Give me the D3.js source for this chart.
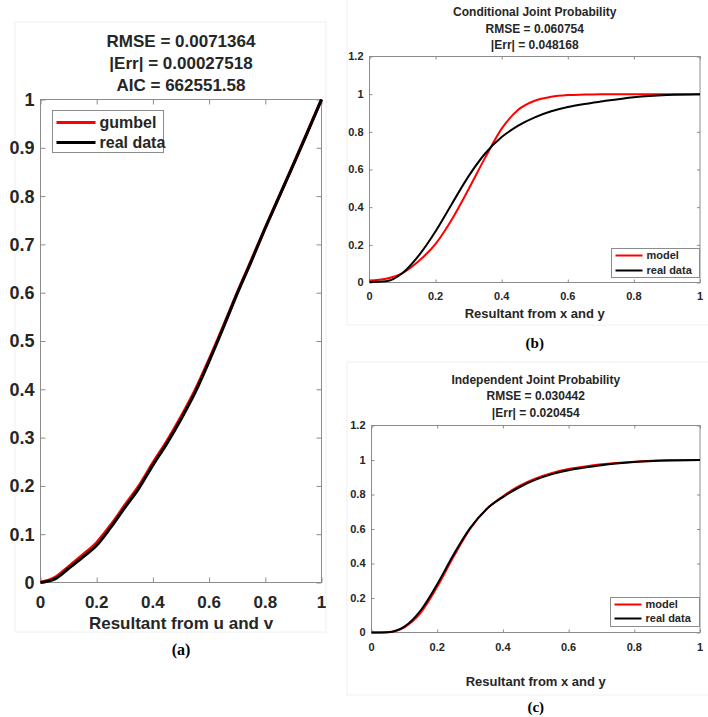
<!DOCTYPE html>
<html>
<head>
<meta charset="utf-8">
<style>
body { margin: 0; background: #fff; }
text { font-family: "Liberation Sans", Arial, sans-serif; font-weight: bold; fill: #262626; }
.cap { font-family: "Liberation Serif", "Times New Roman", serif; fill: #000; }
.frame { fill: none; stroke: #f0f0f0; stroke-width: 1px; }
.box { fill: none; stroke: #8c8c8c; stroke-width: 1px; }
</style>
<title></title>
</head>
<body>
<script src="https://cdn.jsdelivr.net/npm/d3@7"></script>
<script>

// panel (a): copula fit, u/v resultant
var xA = [0, 0.05, 0.1, 0.15, 0.2, 0.25, 0.3, 0.35, 0.4, 0.45, 0.5, 0.55, 0.6, 0.65, 0.7, 0.75, 0.8, 0.85, 0.9, 0.95, 1];
var gumbelA = [0, 0.01, 0.033, 0.057, 0.083, 0.119, 0.16, 0.2, 0.248, 0.293, 0.343, 0.398, 0.462, 0.53, 0.6, 0.667, 0.735, 0.8, 0.866, 0.933, 1];
var realA = [0, 0.007, 0.029, 0.052, 0.077, 0.114, 0.155, 0.195, 0.243, 0.288, 0.338, 0.393, 0.458, 0.527, 0.598, 0.665, 0.734, 0.8, 0.865, 0.932, 1];

// panel (b): conditional joint probability
var xB = [0, 0.05, 0.1, 0.15, 0.2, 0.25, 0.3, 0.35, 0.4, 0.45, 0.5, 0.55, 0.6, 0.65, 0.7, 0.8, 0.9, 1];
var modelB = [0.01, 0.02, 0.05, 0.115, 0.205, 0.337, 0.496, 0.663, 0.817, 0.917, 0.965, 0.986, 0.995, 0.998, 1, 1, 1, 1];
var realB = [0.002, 0.006, 0.05, 0.145, 0.272, 0.42, 0.565, 0.685, 0.772, 0.833, 0.877, 0.909, 0.932, 0.948, 0.961, 0.984, 0.996, 1];

// panel (c): independent joint probability
var xC = [0, 0.05, 0.1, 0.15, 0.2, 0.25, 0.3, 0.35, 0.4, 0.45, 0.5, 0.55, 0.6, 0.65, 0.7, 0.8, 0.9, 1];
var modelC = [0, 0.002, 0.03, 0.115, 0.265, 0.44, 0.6, 0.715, 0.79, 0.85, 0.893, 0.925, 0.948, 0.963, 0.975, 0.99, 0.998, 1];
var realC = [0, 0.002, 0.034, 0.129, 0.28, 0.452, 0.605, 0.715, 0.785, 0.842, 0.886, 0.918, 0.941, 0.956, 0.97, 0.988, 0.997, 1];

var titleA = ["RMSE = 0.0071364", "|Err| = 0.00027518", "AIC = 662551.58"];
var titleB = ["Conditional Joint Probability", "RMSE = 0.060754", "|Err| = 0.048168"];
var titleC = ["Independent Joint Probability", "RMSE = 0.030442", "|Err| = 0.020454"];

var width = 708, height = 717;

var svg = d3.select("body").append("svg")
    .attr("width", width)
    .attr("height", height);

// faint figure borders from the source image
svg.append("rect").attr("class", "frame").attr("x", 15).attr("y", 22).attr("width", 311).attr("height", 610);
svg.append("rect").attr("class", "frame").attr("x", 347).attr("y", -1).attr("width", 362).attr("height", 326);
svg.append("rect").attr("class", "frame").attr("x", 347).attr("y", 362).attr("width", 362).attr("height", 333);

function panel(p) {
  var x = d3.scaleLinear().domain([0, 1]).range([p.x0, p.x1]);
  var y = d3.scaleLinear().domain([0, p.ymax]).range([p.y0, p.y1]);
  var g = svg.append("g");
  var fmt = d3.format("~g");

  var xt = d3.range(0, 1.0001, 0.2);
  var yt = d3.range(0, p.ymax + 0.0001, p.ystep).map(function(v) { return +v.toFixed(2); });

  // inward ticks on all four sides
  function noDomain(s) { s.select(".domain").remove(); }
  g.append("g").attr("transform", "translate(0," + p.y0 + ")")
    .call(d3.axisBottom(x).tickValues(xt).tickSize(-p.tick).tickFormat("")).call(noDomain);
  g.append("g").attr("transform", "translate(0," + p.y1 + ")")
    .call(d3.axisTop(x).tickValues(xt).tickSize(-p.tick).tickFormat("")).call(noDomain);
  g.append("g").attr("transform", "translate(" + p.x0 + ",0)")
    .call(d3.axisLeft(y).tickValues(yt).tickSize(-p.tick).tickFormat("")).call(noDomain);
  g.append("g").attr("transform", "translate(" + p.x1 + ",0)")
    .call(d3.axisRight(y).tickValues(yt).tickSize(-p.tick).tickFormat("")).call(noDomain);
  g.selectAll(".tick line").attr("stroke", "#8c8c8c");

  g.append("rect").attr("class", "box")
    .attr("x", p.x0).attr("y", p.y1)
    .attr("width", p.x1 - p.x0).attr("height", p.y0 - p.y1);

  // tick labels
  g.selectAll(".xl").data(xt).enter().append("text")
    .attr("x", d => x(d)).attr("y", p.y0 + p.xlab)
    .attr("text-anchor", "middle").attr("font-size", p.fs + "px")
    .text(d => fmt(d));
  g.selectAll(".yl").data(yt).enter().append("text")
    .attr("x", p.x0 - p.ylab).attr("y", d => y(d) + p.yfs * 0.36)
    .attr("text-anchor", "end").attr("font-size", p.yfs + "px")
    .text(d => fmt(d));

  var line = d3.line().curve(d3.curveMonotoneX)
    .x(d => x(d[0])).y(d => y(d[1]));
  g.append("path").datum(d3.zip(p.xs, p.red))
    .attr("d", line).attr("fill", "none").attr("stroke", "#ff0000").attr("stroke-width", p.lw);
  g.append("path").datum(d3.zip(p.xs, p.black))
    .attr("d", line).attr("fill", "none").attr("stroke", "#000").attr("stroke-width", p.lw);

  // titles
  var cx = (p.x0 + p.x1) / 2;
  p.title.forEach(function(t, i) {
    g.append("text").attr("x", cx).attr("y", p.ty + i * p.tdy)
      .attr("text-anchor", "middle").attr("font-size", p.tfs + "px").text(t);
  });
  g.append("text").attr("x", cx).attr("y", p.xtitleY)
    .attr("text-anchor", "middle").attr("font-size", p.xfs + "px").text(p.xtitle);
  g.append("text").attr("class", "cap").attr("x", cx).attr("y", p.capY)
    .attr("text-anchor", "middle").attr("font-size", p.cfs + "px").text(p.cap);

  // legend
  var L = p.leg;
  g.append("rect").attr("x", L.x).attr("y", L.y).attr("width", L.w).attr("height", L.h)
    .attr("fill", "#fff").attr("stroke", "#8c8c8c");
  [[p.names[0], "#ff0000"], [p.names[1], "#000"]].forEach(function(e, i) {
    var ly = L.y + L.pad + i * L.dy;
    g.append("line").attr("x1", L.x + 4).attr("x2", L.x + 4 + L.len)
      .attr("y1", ly).attr("y2", ly).attr("stroke", e[1]).attr("stroke-width", p.lw);
    g.append("text").attr("x", L.x + 8 + L.len).attr("y", ly + L.fs * 0.36)
      .attr("font-size", L.fs + "px").text(e[0]);
  });
}

panel({
  x0: 40.5, x1: 321.5, y0: 582.5, y1: 99.5, ymax: 1, ystep: 0.1, tick: 5,
  xs: xA, red: gumbelA, black: realA, lw: 3,
  fs: 17, yfs: 18, xlab: 25, ylab: 6,
  title: titleA, ty: 47, tdy: 22, tfs: 17,
  xtitle: "Resultant from u and v", xtitleY: 629, xfs: 17,
  cap: "(a)", capY: 655, cfs: 16,
  names: ["gumbel", "real data"],
  leg: { x: 52.5, y: 110.5, w: 111, h: 42, pad: 12, dy: 20, len: 39, fs: 16 }
});

panel({
  x0: 369.5, x1: 700, y0: 282.5, y1: 56.5, ymax: 1.2, ystep: 0.2, tick: 3,
  xs: xB, red: modelB, black: realB, lw: 2,
  fs: 11, yfs: 11, xlab: 17, ylab: 6,
  title: titleB, ty: 16, tdy: 16.7, tfs: 12,
  xtitle: "Resultant from x and y", xtitleY: 318, xfs: 13,
  cap: "(b)", capY: 348, cfs: 15,
  names: ["model", "real data"],
  leg: { x: 611.5, y: 248.5, w: 88, h: 29, pad: 7, dy: 15, len: 27, fs: 11 }
});

panel({
  x0: 371.5, x1: 700, y0: 632.5, y1: 425.5, ymax: 1.2, ystep: 0.2, tick: 3,
  xs: xC, red: modelC, black: realC, lw: 2,
  fs: 11, yfs: 11, xlab: 18, ylab: 6,
  title: titleC, ty: 384, tdy: 16.3, tfs: 12,
  xtitle: "Resultant from x and y", xtitleY: 686, xfs: 13,
  cap: "(c)", capY: 712, cfs: 15,
  names: ["model", "real data"],
  leg: { x: 610.5, y: 597.5, w: 89, h: 29, pad: 7, dy: 14, len: 27, fs: 11 }
});

</script>
</body>
</html>
